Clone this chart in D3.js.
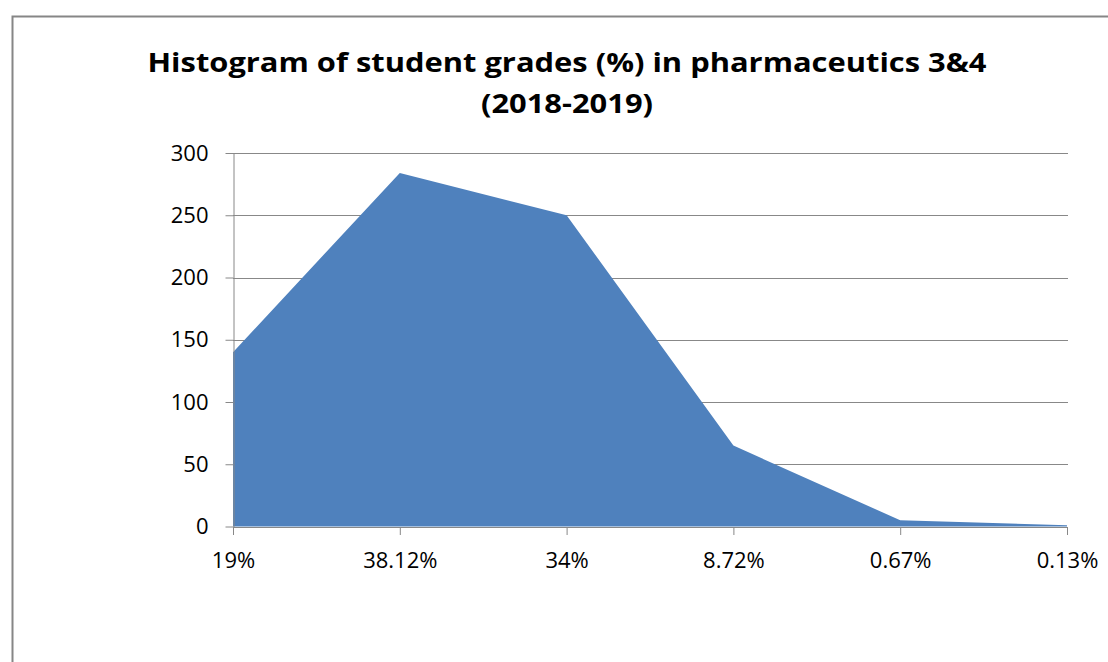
<!DOCTYPE html>
<meta charset="utf-8">
<script src="https://d3js.org/d3.v7.min.js"></script>
<style>
  body { margin: 0; background: #fff; }
  text { font-family: "Open Sans", "Noto Sans", sans-serif; }
</style>
<div id="chart"></div>
<script>

// data
var gradeBins = ["19%", "38.12%", "34%", "8.72%", "0.67%", "0.13%"];
var studentCounts = [140, 284, 250, 65, 5, 1];
var yTicks = [0, 50, 100, 150, 200, 250, 300];
var titleLines = ["Histogram of student grades (%) in pharmaceutics 3&4", "(2018-2019)"];

var width = 1108, height = 662;
var plot = {left: 233, right: 1067, top: 153, bottom: 526.5};

var svg = d3.select("#chart")
  .append("svg")
    .attr("width", width)
    .attr("height", height);

// chart frame (runs off the right and bottom of the picture)
svg.append("rect")
  .attr("x", 12.5)
  .attr("y", 16.5)
  .attr("width", 1110)
  .attr("height", 700)
  .attr("fill", "#fff")
  .attr("stroke", "#868686")
  .attr("stroke-width", 2);

var x = d3.scalePoint()
  .domain(gradeBins)
  .range([plot.left, plot.right]);

var y = d3.scaleLinear()
  .domain([0, 300])
  .range([plot.bottom, plot.top]);

// gridlines
svg.append("g")
  .selectAll("line")
  .data(yTicks.slice(1))
  .enter().append("line")
    .attr("x1", plot.left)
    .attr("x2", plot.right + 1)
    .attr("y1", function(d){ return Math.round(y(d)) + 0.5; })
    .attr("y2", function(d){ return Math.round(y(d)) + 0.5; })
    .attr("stroke", "#888")
    .attr("stroke-width", 1);

// area
var area = d3.area()
  .x(function(d, i){ return x(gradeBins[i]); })
  .y0(y(0))
  .y1(function(d){ return y(d); });

svg.append("path")
  .datum(studentCounts)
  .attr("d", area)
  .attr("fill", "#4F81BD");

// y axis
var yAxis = svg.append("g")
  .attr("transform", "translate(" + (plot.left + 0.5) + ",0)")
  .call(d3.axisLeft(y).tickValues(yTicks).tickSize(8).tickPadding(17).tickSizeOuter(0));
yAxis.select(".domain").attr("stroke", "#888");
yAxis.selectAll(".tick line").attr("stroke", "#888");
yAxis.selectAll(".tick text")
  .attr("font-size", "22px")
  .attr("font-family", "'Open Sans', sans-serif")
  .attr("fill", "#000");

// x axis
var xAxis = svg.append("g")
  .attr("transform", "translate(0," + (plot.bottom + 0.5) + ")")
  .call(d3.axisBottom(x).tickSize(8).tickPadding(17).tickSizeOuter(0));
xAxis.select(".domain").attr("stroke", "#888");
xAxis.selectAll(".tick line").attr("stroke", "#888");
xAxis.selectAll(".tick text")
  .attr("font-size", "22px")
  .attr("font-family", "'Open Sans', sans-serif")
  .attr("fill", "#000");

// title
var t1 = svg.append("text")
  .attr("x", 567)
  .attr("y", 72)
  .attr("text-anchor", "middle")
  .attr("font-size", "27px")
  .attr("font-weight", "bold")
  .text(titleLines[0]);

var t2 = svg.append("text")
  .attr("x", 567)
  .attr("y", 113)
  .attr("text-anchor", "middle")
  .attr("font-size", "27px")
  .attr("font-weight", "bold")
  .text(titleLines[1]);

// stretch to the width of the original title
var ratio = 839 / t1.node().getComputedTextLength();
t1.attr("textLength", 839).attr("lengthAdjust", "spacingAndGlyphs");
t2.attr("textLength", t2.node().getComputedTextLength() * ratio).attr("lengthAdjust", "spacingAndGlyphs");

</script>
